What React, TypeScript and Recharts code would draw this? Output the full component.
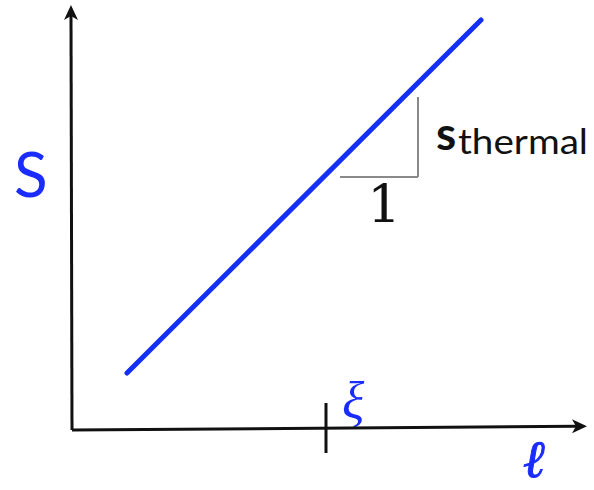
import React from 'react';
import { ComposedChart, XAxis, YAxis, Line, ReferenceLine, Customized } from 'recharts';

// Data (domain units 0..100 on both axes)
const xDomain: [number, number] = [0, 100];
const yDomain: [number, number] = [0, 100];
const lineData = [
  { l: 10.68, s: 13.41 },
  { l: 79.42, s: 96.47 },
];
const xAxisSegment = [{ x: 0, y: 0 }, { x: 100, y: 0.9 }];
const yAxisSegment = [{ x: 0, y: 0 }, { x: -0.2, y: 100 }];
const xiTick = [{ x: 49.32, y: -5.41 }, { x: 49.32, y: 6.35 }];
const slopeHorizontal = [{ x: 52.04, y: 59.53 }, { x: 67.18, y: 59.53 }];
const slopeVertical = [{ x: 67.18, y: 59.53 }, { x: 67.18, y: 78.35 }];

const BLUE = '#1530f5';
const TEXT_BLUE = '#1a2cff';

const Arrow = (props: any) => {
  const { x1, y1, x2, y2 } = props;
  const ang = Math.atan2(y2 - y1, x2 - x1);
  const L = 15, W = 7, N = 4;
  const c = Math.cos(ang), s = Math.sin(ang);
  const bx = x2 - L * c, by = y2 - L * s;
  const p1 = [bx - W * s, by + W * c];
  const p2 = [bx + W * s, by - W * c];
  const nx = x2 - (L - N) * c, ny = y2 - (L - N) * s;
  return (
    <g>
      <line x1={x1} y1={y1} x2={nx} y2={ny} stroke="#111" strokeWidth={3} />
      <path
        d={`M${x2},${y2} L${p1[0]},${p1[1]} L${nx},${ny} L${p2[0]},${p2[1]} Z`}
        fill="#111"
      />
    </g>
  );
};

const Labels = () => (
  <g>
    <text x={14} y={197} fontFamily="Lato" fontSize={62} fill={TEXT_BLUE}>S</text>
    <text x={436} y={150} fontFamily="Lato" fontSize={46} fontWeight={700} fill="#111">s</text>
    <text x={458} y={154} fontFamily="Lato" fontSize={35} fill="#111" textLength={130} lengthAdjust="spacingAndGlyphs">thermal</text>
    <text x={384} y={222} fontFamily="DejaVu Serif" fontSize={53} textAnchor="middle" fill="#111">1</text>
    <text x={342} y={418} fontFamily="Liberation Serif" fontStyle="italic" fontSize={52} fill={TEXT_BLUE}>ξ</text>
    <text x={523} y={477} fontFamily="DejaVu Serif" fontStyle="italic" fontSize={52} fill={TEXT_BLUE} stroke={TEXT_BLUE} strokeWidth={1}>ℓ</text>
  </g>
);

export default function App() {
  return (
    <div style={{ position: 'absolute', left: 0, top: 0 }}>
      <ComposedChart
        width={594}
        height={490}
        data={lineData}
        margin={{ top: 5, right: 7, bottom: 60, left: 72 }}
      >
        <XAxis type="number" dataKey="l" domain={xDomain} hide />
        <YAxis type="number" domain={yDomain} hide />
        <ReferenceLine segment={xAxisSegment} ifOverflow="visible" shape={Arrow} />
        <ReferenceLine segment={yAxisSegment} ifOverflow="visible" shape={Arrow} />
        <ReferenceLine segment={xiTick} ifOverflow="visible" stroke="#111" strokeWidth={3} />
        <ReferenceLine segment={slopeHorizontal} ifOverflow="visible" stroke="#8a8a8a" strokeWidth={2} />
        <ReferenceLine segment={slopeVertical} ifOverflow="visible" stroke="#8a8a8a" strokeWidth={2} />
        <Line
          dataKey="s"
          stroke={BLUE}
          strokeWidth={5}
          strokeLinecap="round"
          dot={false}
          activeDot={false}
          isAnimationActive={false}
        />
        <Customized component={Labels} />
      </ComposedChart>
    </div>
  );
}
